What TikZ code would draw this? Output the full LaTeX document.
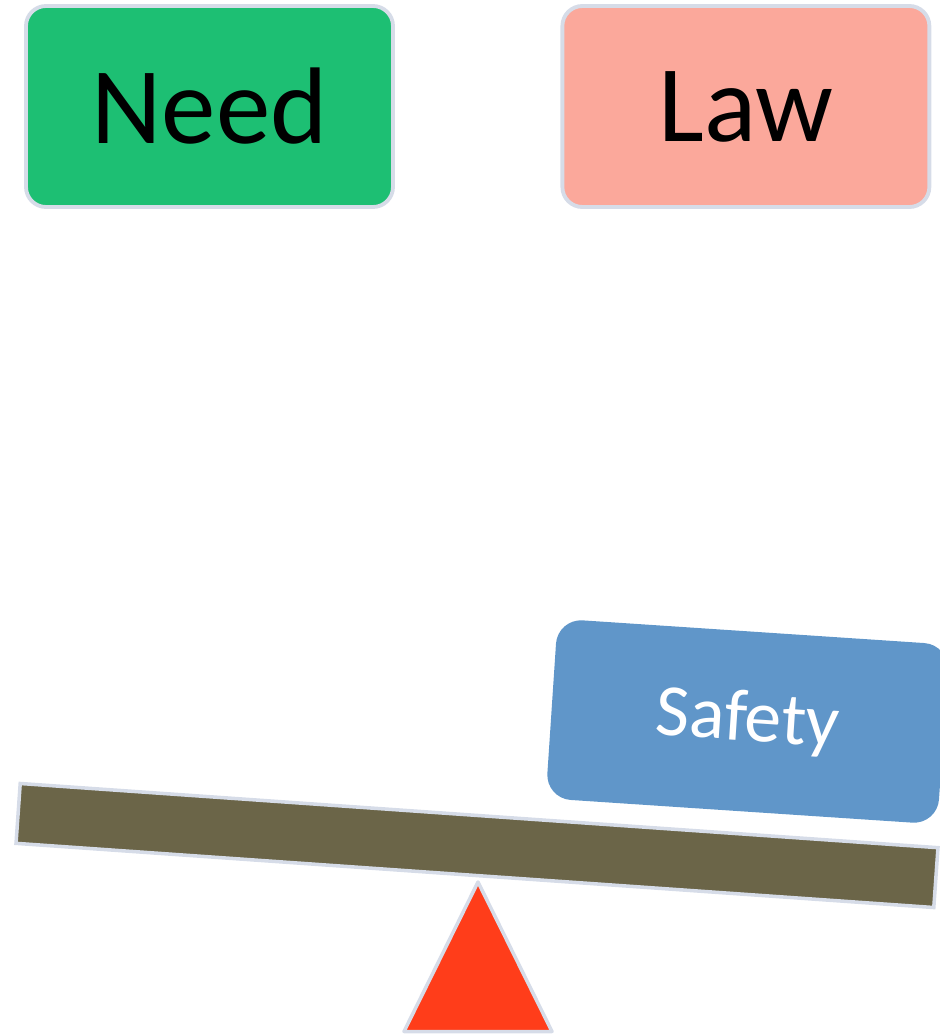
\documentclass[tikz,border=0pt]{standalone}
\usepackage{fontspec}
\setmainfont{Carlito}
\usetikzlibrary{positioning,calc}

\definecolor{needgreen}{HTML}{1DBF73}
\definecolor{lawpink}{HTML}{FBA89B}
\definecolor{safeblue}{HTML}{6096C9}
\definecolor{beamolive}{HTML}{6B6548}
\definecolor{pivotred}{HTML}{FF3D1A}
\definecolor{edgegray}{HTML}{D6DCE8}

\begin{document}
\begin{tikzpicture}[
  tag/.style={draw=edgegray, line width=2.2pt, rounded corners=0.4cm,
    minimum width=7.34cm, minimum height=4.02cm, font=\fontsize{62}{62}\selectfont},
  wgt/.style={fill=safeblue, rounded corners=0.5cm, text=white,
    minimum width=7.85cm, minimum height=3.6cm, font=\fontsize{42}{42}\selectfont},
  plank/.style={draw=edgegray, line width=2pt, fill=beamolive,
    minimum width=18.4cm, minimum height=1.2cm}]
  \useasboundingbox (0,0) rectangle (18.78,-20.7);

  % the two sides
  \node[tag, fill=needgreen] (need) at (4.19,-2.13) {Need};
  \node[tag, fill=lawpink, right=3.31cm of need] (law) {Law};

  % the seesaw
  \node[plank, rotate=-4] (beam) at (9.54,-16.91) {};
  \node[wgt, rotate=-3.8] (safety) at (14.95,-14.43) {Safety};

  % pivot
  \coordinate (tip) at (9.56,-17.64);
  \coordinate (bl) at (8.08,-20.63);
  \coordinate (br) at (11.04,-20.63);
  \draw[draw=edgegray, line width=2pt, fill=pivotred, line join=round]
    (tip) -- (br) -- (bl) -- cycle;
\end{tikzpicture}
\end{document}
